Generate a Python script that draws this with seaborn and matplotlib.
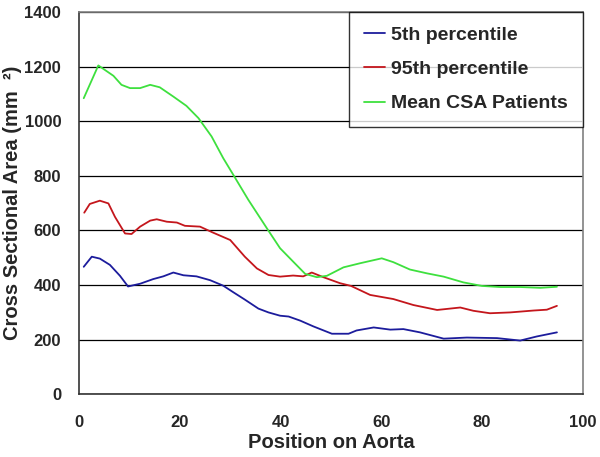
"""Cross sectional area along the aorta: percentiles vs mean of CSA patients"""
import matplotlib
matplotlib.use("Agg")
import matplotlib.pyplot as plt
import pandas as pd
import seaborn as sns

# 5th percentile
x_p5 = [0.9, 2.5, 4.1, 6.1, 8.1, 9.7, 12.1, 14.7, 16.7, 18.7, 20.7, 23.3, 26.0,
        28.6, 30.6, 32.9, 35.6, 37.6, 39.9, 41.6, 43.9, 46.5, 50.2, 53.5, 55.1,
        58.5, 61.8, 64.4, 67.7, 72.4, 77.0, 83.0, 87.6, 90.9, 94.9]
y_p5 = [467, 504, 497, 474, 434, 395, 405, 422, 432, 446, 436, 432, 418,
        398, 374, 347, 314, 300, 288, 285, 270, 249, 222, 222, 234,
        245, 237, 239, 227, 204, 208, 206, 197, 212, 227]

# 95th percentile
x_p95 = [1.0, 2.1, 4.1, 5.8, 7.1, 9.1, 10.4, 12.1, 14.1, 15.4, 17.4, 19.4, 21.0,
         24.0, 26.6, 30.0, 32.9, 35.3, 37.6, 39.9, 42.5, 44.5, 46.2, 48.5, 51.8,
         54.0, 57.8, 62.4, 66.4, 71.1, 75.7, 78.3, 81.6, 85.6, 90.3, 92.9, 94.9]
y_p95 = [665, 697, 709, 699, 650, 589, 587, 614, 636, 641, 632, 629, 617,
         614, 592, 565, 504, 461, 437, 431, 435, 432, 446, 429, 407,
         397, 364, 349, 327, 309, 318, 306, 297, 300, 307, 310, 324]

# Mean CSA patients
x_mean = [0.9, 3.8, 6.8, 8.4, 10.1, 12.1, 14.1, 16.0, 18.7, 21.3, 23.7, 26.3,
          28.6, 30.6, 33.6, 37.6, 39.9, 42.5, 44.9, 47.2, 49.2, 52.5, 55.8,
          60.1, 62.4, 65.7, 69.1, 72.4, 76.3, 80.0, 83.6, 87.6, 91.6, 94.9]
y_mean = [1084, 1204, 1166, 1133, 1121, 1121, 1133, 1124, 1090, 1056, 1011, 944,
          865, 804, 712, 599, 535, 486, 441, 429, 434, 465, 480,
          498, 484, 457, 443, 431, 410, 397, 393, 393, 390, 394]

series_names = ["5th percentile", "95th percentile", "Mean CSA Patients"]
colors = ["#1c1c9c", "#c4161c", "#3ee03e"]

df = pd.concat([
    pd.DataFrame({"pos": x_p5, "csa": y_p5, "series": series_names[0]}),
    pd.DataFrame({"pos": x_p95, "csa": y_p95, "series": series_names[1]}),
    pd.DataFrame({"pos": x_mean, "csa": y_mean, "series": series_names[2]}),
])

sns.set_style("white")
plt.rcParams["font.family"] = ["Liberation Sans", "DejaVu Sans"]
plt.rcParams["font.weight"] = "bold"

fig = plt.figure(figsize=(6, 4.57), dpi=100)
ax = fig.add_axes([0.132, 0.137, 0.839, 0.837])

sns.lineplot(data=df, x="pos", y="csa", hue="series", hue_order=series_names,
             palette=colors, linewidth=1.3, sort=True, estimator=None, ax=ax)

ax.set_xlim(0, 100)
ax.set_ylim(0, 1400)
ax.set_xticks(range(0, 101, 20))
ax.set_yticks(range(0, 1401, 200))
ax.yaxis.grid(True, color="black", linewidth=0.9)
ax.set_axisbelow(True)

for side in ["left", "bottom"]:
    ax.spines[side].set_color("#333333")
for side in ["top", "right"]:
    ax.spines[side].set_color("#808080")
for sp in ax.spines.values():
    sp.set_linewidth(1.2)

ax.tick_params(axis="both", direction="out", length=5, width=1, color="#333333",
               labelsize=12)
ax.tick_params(axis="x", pad=10)
ax.tick_params(axis="y", pad=8)
for lab in ax.get_xticklabels() + ax.get_yticklabels():
    lab.set_fontweight("bold")

ax.set_xlabel("Position on Aorta", fontsize=14.5, fontweight="bold", labelpad=2)
ax.set_ylabel("Cross Sectional Area (mm  \u00b2)", fontsize=14.5, fontweight="bold",
              labelpad=2)

# legend box sits flush in the top-right corner, square frame
leg = ax.legend(loc="upper right", bbox_to_anchor=(1.0, 1.0), borderaxespad=0,
                frameon=True, fancybox=False, handlelength=1.1, handletextpad=0.3,
                labelspacing=0.85, borderpad=0.75,
                prop={"size": 14, "weight": "bold"})
leg.get_frame().set_edgecolor("black")
leg.get_frame().set_linewidth(1.0)
for line in leg.get_lines():
    line.set_linewidth(1.3)

fig.savefig("out.png", dpi=100)
